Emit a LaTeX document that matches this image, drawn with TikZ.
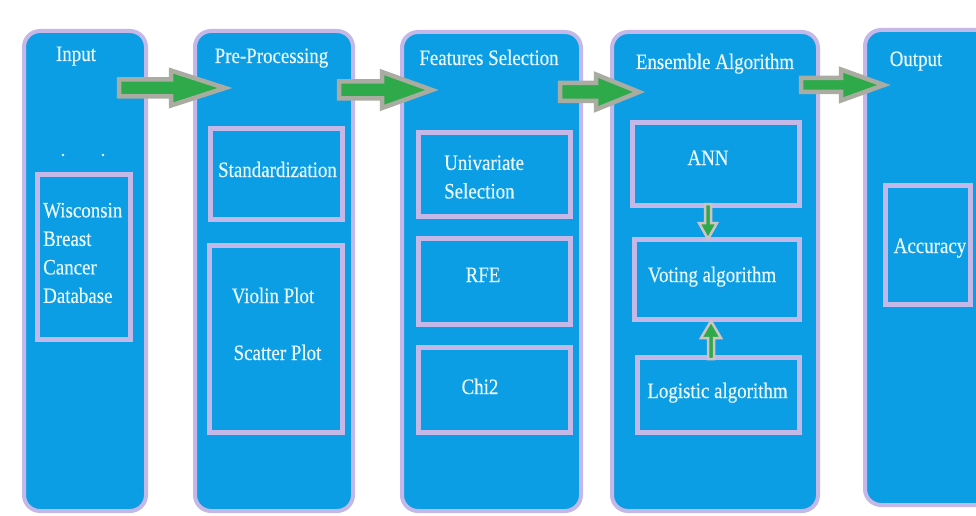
\documentclass[tikz,border=0pt]{standalone}
\usepackage{fontspec}
\setmainfont{Liberation Serif}[FakeStretch=0.86, FakeBold=0.35]
\usetikzlibrary{calc}

\definecolor{panelblue}{RGB}{12,158,228}
\definecolor{panelrim}{RGB}{196,184,232}
\definecolor{labeltext}{RGB}{232,246,255}
\definecolor{arrowgreen}{RGB}{46,170,74}
\definecolor{arrowrim}{RGB}{170,172,162}
\definecolor{smallrim}{RGB}{206,196,196}

% block arrow: #1 tail point, #2 direction angle, #3 total length,
% #4 head length, #5 shaft half-width, #6 head half-width
\newcommand\blockarrow[7][arrowbody]{%
  \begin{scope}[shift={#2}, rotate=#3]
    \filldraw[#1] (0,-#6) -- ({#4-#5},-#6) -- ({#4-#5},-#7) -- (#4,0)
      -- ({#4-#5},#7) -- ({#4-#5},#6) -- (0,#6) -- cycle;
  \end{scope}}

\begin{document}
\begin{tikzpicture}[x=1pt,y=-1pt,
  stage/.style={draw=panelrim, line width=4pt, fill=panelblue,
    rounded corners=16pt, inner sep=0pt},
  itembox/.style={draw=panelrim, line width=5pt, fill=panelblue, inner sep=0pt},
  txt/.style={text=labeltext, font=\fontsize{22}{28.5}\selectfont, inner sep=0pt},
  arrowbody/.style={fill=arrowgreen, draw=arrowrim, line width=4.5pt, line join=miter},
  smallarrow/.style={fill=arrowgreen, draw=smallrim, line width=2.5pt, line join=miter}]

\clip (0,0) rectangle (976,516);
\fill[white] (0,0) rectangle (976,516);

% stage columns
\node[stage, minimum width=122, minimum height=480] (colIn)   at (85,271)     {};
\node[stage, minimum width=158, minimum height=480] (colPre)  at (274,271)    {};
\node[stage, minimum width=179, minimum height=479] (colFeat) at (491.5,271.5) {};
\node[stage, minimum width=206, minimum height=479] (colEns)  at (715,271.5)  {};
\node[stage, minimum width=133, minimum height=475] (colOut)  at (931.5,267.5) {};

% stage titles
\node[txt, anchor=base] (tIn)   at (76,61)    {Input};
\node[txt, anchor=base] (tPre)  at (271.5,63) {Pre-Processing};
\node[txt, anchor=base] (tFeat) at (489,65)   {Features Selection};
\node[txt, anchor=base] (tEns)  at (715,69)   {Ensemble Algorithm};
\node[txt, anchor=base] (tOut)  at (916,66)   {Output};

% input
\fill[labeltext] (63,155) circle (1.3) (103,155) circle (1.3);
\node[itembox, minimum width=93, minimum height=165] (inData) at (84,257) {};
\node[txt, anchor=west, align=left] (inText) at (43,253)
  {Wisconsin\\Breast\\Cancer\\Database};

% pre-processing
\node[itembox, minimum width=132, minimum height=91]  (stdBox)  at (276.5,174) {};
\node[txt, anchor=base] (stdText) at (277.5,177) {Standardization};
\node[itembox, minimum width=133, minimum height=187] (plotBox) at (276,339) {};
\node[txt, anchor=base] (violin)  at (273,303)   {Violin Plot};
\node[txt, anchor=base] (scatter) at (277.5,360) {Scatter Plot};

% feature selection
\node[itembox, minimum width=152, minimum height=84] (uniBox) at (494.5,174.5) {};
\node[txt, anchor=west, align=left] (uniText) at (444,177) {Univariate\\Selection};
\node[itembox, minimum width=152, minimum height=86] (rfeBox) at (494.5,281.5) {};
\node[txt, anchor=base] (rfeText) at (483,282) {RFE};
\node[itembox, minimum width=152, minimum height=85] (chiBox) at (494.5,390) {};
\node[txt, anchor=base] (chiText) at (480,394) {Chi2};

% ensemble
\node[itembox, minimum width=167, minimum height=83] (annBox)  at (716,164)   {};
\node[txt, anchor=base] (annText) at (708,165) {ANN};
\node[itembox, minimum width=165, minimum height=80] (voteBox) at (717,279.5) {};
\node[txt, anchor=base] (voteText) at (712,282) {Voting algorithm};
\node[itembox, minimum width=162, minimum height=75] (logBox)  at (718.5,395) {};
\node[txt, anchor=base] (logText) at (717.5,398) {Logistic algorithm};

% output
\node[itembox, minimum width=85, minimum height=119] (accBox) at (928,245) {};
\node[txt, anchor=base] (accText) at (930,253) {Accuracy};

% flow arrows between stages
\coordinate (a1) at (119,88);
\coordinate (a2) at (339,90);
\coordinate (a3) at (560,92);
\coordinate (a4) at (801,85);
\blockarrow{(a1)}{0}{106}{54}{8.5}{17.5}
\blockarrow{(a2)}{0}{93}{50}{8.5}{18}
\blockarrow{(a3)}{0}{79}{43}{9}{17.5}
\blockarrow{(a4)}{0}{83}{43}{7}{15.5}

% arrows into the voting step
\coordinate (annOut) at ($(annBox.south)+(-8,-4)$);
\coordinate (logOut) at ($(logBox.north)+(-7.5,4)$);
\blockarrow[smallarrow]{(annOut)}{-90}{35}{16}{3}{9}
\blockarrow[smallarrow]{(logOut)}{90}{38}{17}{3}{10}

\end{tikzpicture}
\end{document}
